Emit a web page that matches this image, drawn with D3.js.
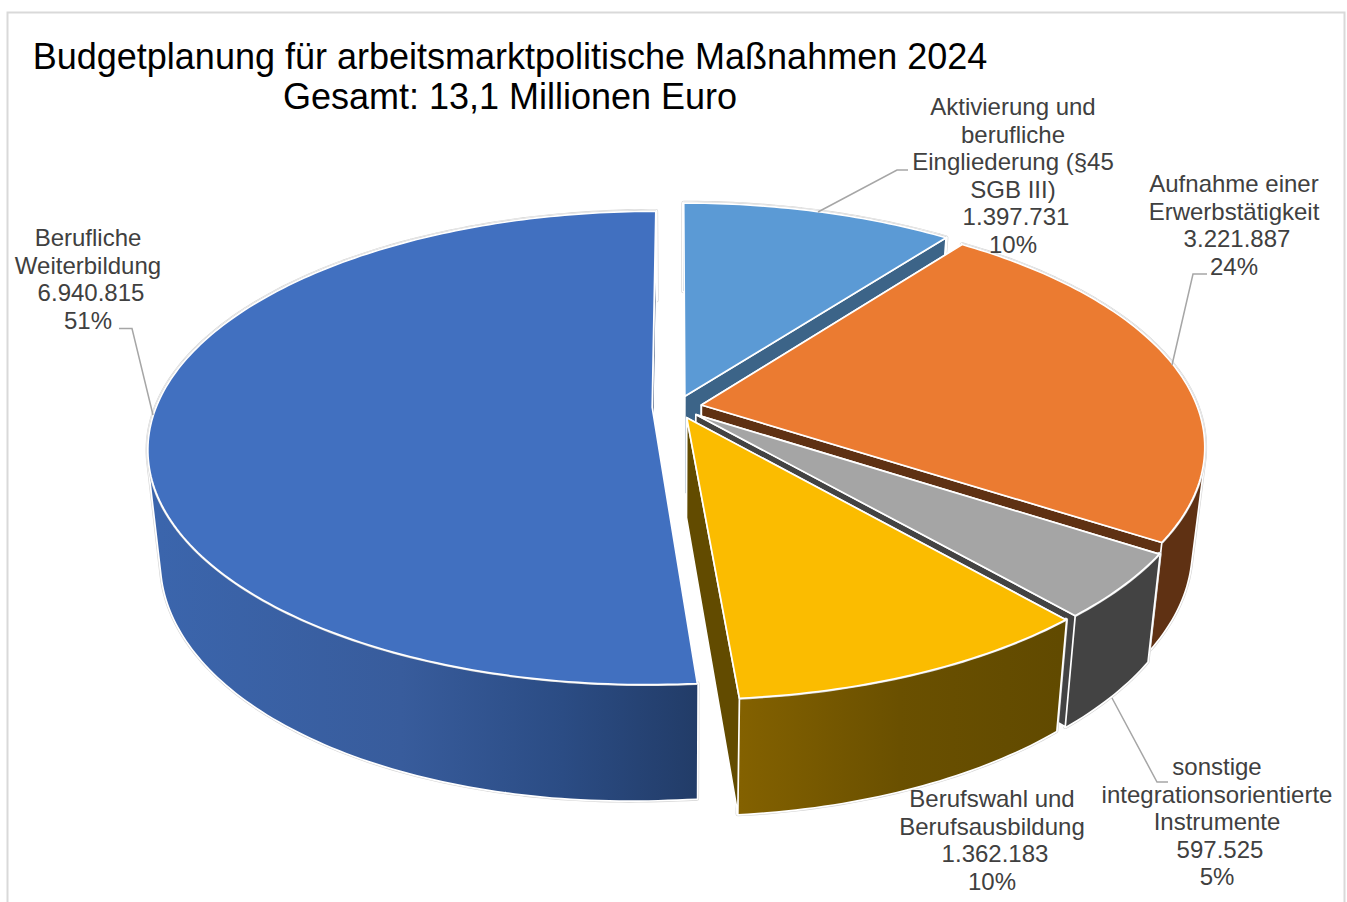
<!DOCTYPE html>
<html lang="de">
<head>
<meta charset="utf-8">
<title>Budgetplanung 2024</title>
<script src="https://cdn.jsdelivr.net/npm/d3@7/dist/d3.min.js"></script>
<style>
html, body { margin: 0; padding: 0; background: #fff; overflow: hidden; }
svg { display: block; font-family: "Liberation Sans", Arial, sans-serif; }
</style>
</head>
<body>
<svg id="chart" width="1347" height="902"></svg>
<script>
// Budget items, clockwise from twelve o'clock
const categories = [
  ["Aktivierung und", "berufliche", "Eingliederung (§45", "SGB III)"],
  ["Aufnahme einer", "Erwerbstätigkeit"],
  ["sonstige", "integrationsorientierte", "Instrumente"],
  ["Berufswahl und", "Berufsausbildung"],
  ["Berufliche", "Weiterbildung"]
];
const values = [1397731, 3221887, 597525, 1362183, 6940815];
const valueLabels = ["1.397.731", "3.221.887", "597.525", "1.362.183", "6.940.815"];
const percentLabels = ["10%", "24%", "5%", "10%", "51%"];
const titleLines = ["Budgetplanung für arbeitsmarktpolitische Maßnahmen 2024", "Gesamt: 13,1 Millionen Euro"];

// Face and wall colours per slice
const faceColors = ["#5b9ad5", "#eb7b31", "#a5a5a5", "#fbbc00", "#4170c0"];
const wallColors = ["#3c6488", "#5f3113", "#434343", "url(#wallYellow)", "url(#wallBlue)"];
const cutColors  = ["#3c6488", "#5f3113", "#434343", "#624b00", "#223c68"];

// Label anchors and leader lines
const labelAnchors = [[1013, 107], [1234, 184], [1217, 767], [992, 799], [88, 238]];
const leaders = [
  [[818, 212], [897, 170], [908, 170]],
  [[1172, 365], [1193, 274], [1207, 274]],
  [[1112, 698], [1157, 782], [1168, 782]],
  null,
  [[153, 415], [132, 328.5], [119, 328.5]]
];

const svg = d3.select("#chart");

// Perspective of the pie's top plane: unit disc to screen
const center = { x: 677, y: 407 };
const tilt = 0.171, scaleX = 496, scaleY = 229.6;
const explode = 0.05;
function toScreen(X, Y) {
  const w = 1 - tilt * Y;
  return [center.x + scaleX * X / w, center.y + scaleY * Y / w];
}
// Where a top-plane point lands on the lower rim of the pie
const vanishX = 676;
function toBase([x, y]) {
  return [
    vanishX + (x - vanishX) * 0.975,
    y + 115 + 0.056 * (y - 685) + 0.018 * Math.max(0, vanishX - x)
  ];
}

const defs = svg.append("defs");
function wallGradient(id, x1, x2, stops) {
  const g = defs.append("linearGradient").attr("id", id)
    .attr("gradientUnits", "userSpaceOnUse")
    .attr("x1", x1).attr("x2", x2).attr("y1", 0).attr("y2", 0);
  stops.forEach(([o, c]) => g.append("stop").attr("offset", o).attr("stop-color", c));
}
wallGradient("wallBlue", 160, 697, [[0, "#3b65ac"], [0.45, "#385c9c"], [0.75, "#2b4c84"], [1, "#223c68"]]);
wallGradient("wallYellow", 740, 1060, [[0, "#836100"], [0.5, "#6a5000"], [1, "#614a00"]]);

// Chart frame, open at the bottom where the window cuts it off
svg.append("path")
  .attr("d", "M7.5,902V12.5H1344.5V902")
  .attr("fill", "none").attr("stroke", "#d9d9d9").attr("stroke-width", 2);

const pie = d3.pie().sort(null).value(d => d);
const arcs = pie(values);
const line = d3.line();

// The curved wall is the area swept from the top rim to the lower rim,
// written as same-handed quads so a nonzero fill gives their union
function sweptPath(top, base) {
  return d3.range(top.length - 1).map(k => {
    const q = [top[k], top[k + 1], base[k + 1], base[k]];
    return line(d3.polygonArea(q) < 0 ? q.reverse() : q) + "Z";
  }).join("");
}

const gPie = svg.append("g");
arcs.forEach((a, i) => {
  const mid = (a.startAngle + a.endAngle) / 2;
  const ox = explode * Math.sin(mid), oy = -explode * Math.cos(mid);
  const pt = t => toScreen(ox + Math.sin(t), oy - Math.cos(t));
  const apex = toScreen(ox, oy);
  const n = Math.max(8, Math.round((a.endAngle - a.startAngle) * 60));
  const rim = d3.range(n + 1).map(k => pt(a.startAngle + (a.endAngle - a.startAngle) * k / n));
  const rimBase = rim.map(toBase);
  const apexBase = toBase(apex);
  const g = gPie.append("g");

  const flat = (pts, fill) => g.append("path").attr("d", line(pts) + "Z")
    .attr("fill", fill).attr("stroke", "#fff").attr("stroke-width", 1.7)
    .attr("stroke-linejoin", "round");

  // Leading cut face, then the wall, then the trailing cut face and the top
  flat([apex, rim[0], rimBase[0], apexBase], cutColors[i]);

  const wall = sweptPath(rim, rimBase);
  g.append("path").attr("d", wall).attr("fill", "none")
    .attr("stroke", "#d4d4d4").attr("stroke-width", 4.6).attr("stroke-linejoin", "round");
  g.append("path").attr("d", wall).attr("fill", "none")
    .attr("stroke", "#fff").attr("stroke-width", 3.4).attr("stroke-linejoin", "round");
  g.append("path").attr("d", wall).attr("fill", wallColors[i]).attr("fill-rule", "nonzero");

  flat([apex, rim[n], rimBase[n], apexBase], cutColors[i]);

  const face = [apex].concat(rim);
  g.append("path").attr("d", line(rim)).attr("fill", "none")
    .attr("stroke", "#d4d4d4").attr("stroke-width", 2.8).attr("stroke-linejoin", "round");
  flat(face, faceColors[i]);
});

// Leader lines
svg.append("g").selectAll("path").data(leaders.filter(Boolean)).join("path")
  .attr("d", d => line(d)).attr("fill", "none")
  .attr("stroke", "#a6a6a6").attr("stroke-width", 1.5);

// Data labels: category lines, value, share; the value line sits slightly right of centre
const lineGap = 27.6;
const gLabels = svg.append("g").attr("fill", "#404040").attr("font-size", 24)
  .attr("text-anchor", "middle");
categories.forEach((lines, i) => {
  const [x, y] = labelAnchors[i];
  lines.forEach((s, k) => {
    gLabels.append("text").attr("x", x).attr("y", y + k * lineGap + 8).text(s);
  });
  const m = lines.length;
  gLabels.append("text").attr("x", x + 3).attr("y", y + m * lineGap + 8).text(valueLabels[i]);
  gLabels.append("text").attr("x", x).attr("y", y + (m + 1) * lineGap + 8).text(percentLabels[i]);
});

// Title
svg.append("g").attr("fill", "#000").attr("font-size", 36).attr("text-anchor", "middle")
  .selectAll("text").data(titleLines).join("text")
  .attr("x", 510).attr("y", (d, i) => 69 + i * 40).text(d => d);
</script>
</body>
</html>
